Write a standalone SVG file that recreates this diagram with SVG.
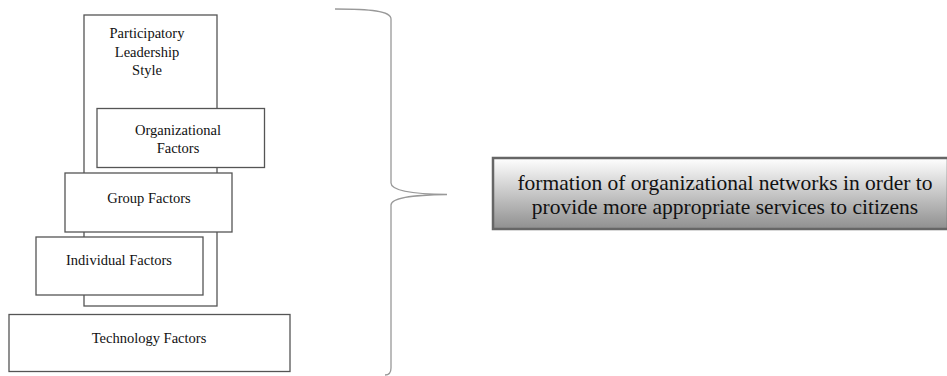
<svg xmlns="http://www.w3.org/2000/svg" width="947" height="376" viewBox="0 0 947 376">
<style>
.box{fill:#fff;stroke:#555;stroke-width:1.3}
.t{font-family:'Liberation Serif','Times New Roman',serif;font-size:14.5px;fill:#111;text-anchor:middle}
.big{font-family:'Liberation Serif','Times New Roman',serif;font-size:21.5px;fill:#111;text-anchor:middle}
</style>
<defs>
<linearGradient id="g" x1="0" y1="0" x2="0" y2="1">
<stop offset="0" stop-color="#ffffff"/>
<stop offset="1" stop-color="#8f8f8f"/>
</linearGradient>
</defs>
<rect width="947" height="376" fill="#fff"/>
<g id="participatory">
<rect class="box" x="84" y="15" width="133" height="291"/>
<text class="t" x="147" y="38">Participatory</text>
<text class="t" x="147" y="57">Leadership</text>
<text class="t" x="147" y="75">Style</text>
</g>
<g id="organizational">
<rect class="box" x="97" y="108.5" width="167.5" height="59"/>
<text class="t" x="178" y="135">Organizational</text>
<text class="t" x="178" y="153">Factors</text>
</g>
<g id="group">
<rect class="box" x="65" y="173" width="167" height="59"/>
<text class="t" x="149" y="203">Group Factors</text>
</g>
<g id="individual">
<rect class="box" x="36" y="237" width="167" height="58"/>
<text class="t" x="119" y="265">Individual Factors</text>
</g>
<g id="technology">
<rect class="box" x="9" y="314.5" width="281" height="57"/>
<text class="t" x="149" y="343">Technology Factors</text>
</g>
<g id="connectors">
<path d="M335,9 C370,9 391,11 391,19 L391,183 C391,190 410,194 447,194.5 C410,195 391,198 391,205 L391,368 C391,373 389,375 385,375" fill="none" stroke="#999" stroke-width="1.3"/>
</g>
<g id="outcome">
<rect x="493" y="158" width="455" height="71" fill="url(#g)" stroke="#666" stroke-width="2.5"/>
<text class="big" x="725" y="190">formation of organizational networks in order to</text>
<text class="big" x="725" y="214">provide more appropriate services to citizens</text>
</g>
</svg>
